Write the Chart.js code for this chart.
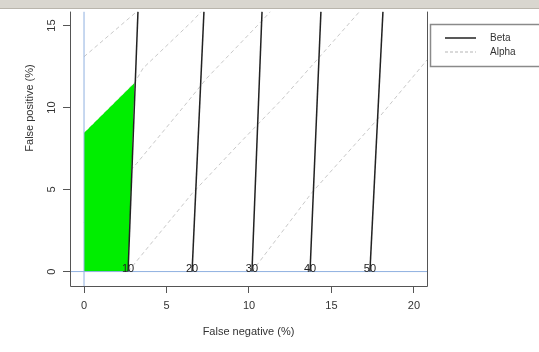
<!DOCTYPE html>
<html>
<head>
<meta charset="utf-8">
<script src="https://cdn.jsdelivr.net/npm/chart.js@4.4.1/dist/chart.umd.min.js"></script>
<style>
body { margin: 0; background: #fff; }
#wrap { position: relative; width: 539px; height: 352px; }
#bar { position: absolute; left: 0; top: 0; width: 539px; height: 8px; background: #d9d6cf; border-bottom: 1px solid #b9b5ac; }
</style>
</head>
<body>
<div id="wrap">
  <canvas id="grafico" width="539" height="352"></canvas>
  <div id="bar"></div>
</div>
<script>
// eixos
const xRange = [-0.85, 20.79];
const yRange = [-0.88, 15.85];
const xTicks = [0, 5, 10, 15, 20];
const yTicks = [0, 5, 10, 15];

// linhas Beta (falso negativo em y=0 e no topo)
const betaLabels = ['10', '20', '30', '40', '50'];
const betaBottom = [2.67, 6.55, 10.18, 13.70, 17.33];
const betaTop = [3.27, 7.27, 10.79, 14.36, 18.12];

// linhas Alpha (tracejadas)
const alphaLines = [
  [[0, 13.1], [3.2, 15.85]],
  [[0, 8.45], [3.06, 11.5], [3.58, 12.4], [6.6, 15.3], [7.1, 15.85]],
  [[0, 3.0], [3.2, 6.6], [6.24, 10.3], [7.45, 11.8], [10.7, 15.2], [11.3, 15.85]],
  [[2.67, 0], [6.55, 4.76], [9.45, 7.85], [12.0, 10.5], [14.2, 13.0], [16.7, 15.85]],
  [[10.18, 0], [13.8, 4.8], [17.8, 9.3], [20.79, 12.9]]
];

// regiao verde
const greenX = [0, 0, 3.06, 2.67];
const greenY = [0, 8.45, 11.5, 0];

Chart.defaults.font.family = '"Liberation Sans", Arial, sans-serif';
Chart.defaults.color = '#333';

let datasets = [];
betaLabels.forEach(function(lab, i) {
    datasets.push({
        label: 'Beta', betaLabel: lab,
        data: [{x: betaBottom[i], y: 0}, {x: betaTop[i], y: yRange[1]}],
        borderColor: '#222', borderWidth: 1.5, pointRadius: 0, order: 0
    });
});
datasets.push({ label: 'ref', data: [{x: xRange[0], y: 0}, {x: xRange[1], y: 0}],
    borderColor: '#8fb0e0', borderWidth: 1, pointRadius: 0, order: 1 });
datasets.push({ label: 'ref', data: [{x: 0, y: yRange[0]}, {x: 0, y: yRange[1]}],
    borderColor: '#8fb0e0', borderWidth: 1, pointRadius: 0, order: 1 });
datasets.push({ label: 'regiao', data: greenX.map(function(x, i) { return {x: x, y: greenY[i]}; }),
    fill: 'shape', backgroundColor: '#00ee00', borderColor: 'rgba(0,0,0,0)', borderWidth: 0, pointRadius: 0, order: 2 });
alphaLines.forEach(function(linha) {
    datasets.push({
        label: 'Alpha',
        data: linha.map(function(p) { return {x: p[0], y: p[1]}; }),
        borderColor: '#c8c8c8', borderDash: [4, 3], borderWidth: 1, pointRadius: 0, order: 3
    });
});

function amostra(cor, traco, largura) {
    let c = document.createElement('canvas');
    c.width = 54; c.height = 4;
    let g = c.getContext('2d');
    g.strokeStyle = cor; g.lineWidth = largura; g.setLineDash(traco);
    g.beginPath(); g.moveTo(14, 2); g.lineTo(45, 2); g.stroke();
    return c;
}

const extras = {
    id: 'extras',
    afterDatasetsDraw(chart) {
        const ctx = chart.ctx, x = chart.scales.x, y = chart.scales.y, a = chart.chartArea;
        ctx.save();
        // rotulos das linhas beta
        ctx.font = '11px "Liberation Sans", Arial, sans-serif';
        ctx.fillStyle = '#222';
        ctx.textAlign = 'center';
        ctx.textBaseline = 'middle';
        chart.data.datasets.forEach(function(ds) {
            if (ds.betaLabel) ctx.fillText(ds.betaLabel, x.getPixelForValue(ds.data[0].x), y.getPixelForValue(0) - 3);
        });
        // caixa do grafico (o topo fica cortado)
        ctx.strokeStyle = '#555';
        ctx.lineWidth = 1;
        ctx.beginPath();
        ctx.moveTo(a.left + 0.5, a.top);
        ctx.lineTo(a.left + 0.5, a.bottom + 0.5);
        ctx.lineTo(a.right + 0.5, a.bottom + 0.5);
        ctx.lineTo(a.right + 0.5, a.top);
        ctx.stroke();
        // caixa da legenda
        ctx.strokeStyle = '#8a8a8a';
        ctx.lineWidth = 1.5;
        ctx.strokeRect(430.5, 24.5, 120, 42);
        // titulo do eixo y
        ctx.fillStyle = '#333';
        ctx.translate(30, 108);
        ctx.rotate(-Math.PI / 2);
        ctx.fillText('False positive (%)', 0, 0);
        ctx.restore();
    }
};

let ctx = document.getElementById('grafico').getContext('2d');
var grafico = new Chart(ctx, {
    type: 'line',
    data: { datasets: datasets },
    options: {
        responsive: false,
        animation: false,
        events: [],
        layout: { padding: { top: 10, right: 20, bottom: 0, left: 0 } },
        plugins: {
            tooltip: { enabled: false },
            legend: {
                position: 'right',
                align: 'start',
                title: { display: true, text: ' ', font: { size: 10, lineHeight: 1.2 }, padding: { top: 0, bottom: 7 } },
                labels: {
                    usePointStyle: true, pointStyleWidth: 54, boxHeight: 10, padding: 4,
                    font: { size: 10 }, color: '#333',
                    generateLabels: function() {
                        return [
                            { text: 'Beta', pointStyle: amostra('#222', [], 1.5), lineWidth: 0, strokeStyle: '#222', fillStyle: '#222' },
                            { text: 'Alpha', pointStyle: amostra('#b5b5b5', [3, 2], 1), lineWidth: 0, strokeStyle: '#bbb', fillStyle: '#bbb' }
                        ];
                    }
                }
            }
        },
        scales: {
            x: {
                type: 'linear', min: xRange[0], max: xRange[1],
                afterBuildTicks: function(s) { s.ticks = xTicks.map(function(v) { return {value: v}; }); },
                afterFit: function(s) { s.height = 66; },
                grid: { drawOnChartArea: false, drawTicks: true, tickLength: 7, color: '#555' },
                border: { display: false },
                ticks: { font: { size: 11 }, color: '#333', padding: 6, autoSkip: false, maxRotation: 0 },
                title: { display: true, text: 'False negative (%)', font: { size: 11 }, color: '#333', padding: { top: 0, bottom: 13.4 } }
            },
            y: {
                type: 'linear', min: yRange[0], max: yRange[1],
                afterBuildTicks: function(s) { s.ticks = yTicks.map(function(v) { return {value: v}; }); },
                afterFit: function(s) { s.width = 70; },
                grid: { drawOnChartArea: false, drawTicks: true, tickLength: 7, color: '#555' },
                border: { display: false },
                ticks: { font: { size: 11 }, color: '#333', padding: 5, autoSkip: false, minRotation: 90, maxRotation: 90, crossAlign: 'center' }
            }
        }
    },
    plugins: [extras]
});

// ajusta a margem direita para a area do grafico terminar em 427px
grafico.options.layout.padding.right += grafico.chartArea.right - 427;
grafico.update('none');
</script>
</body>
</html>
